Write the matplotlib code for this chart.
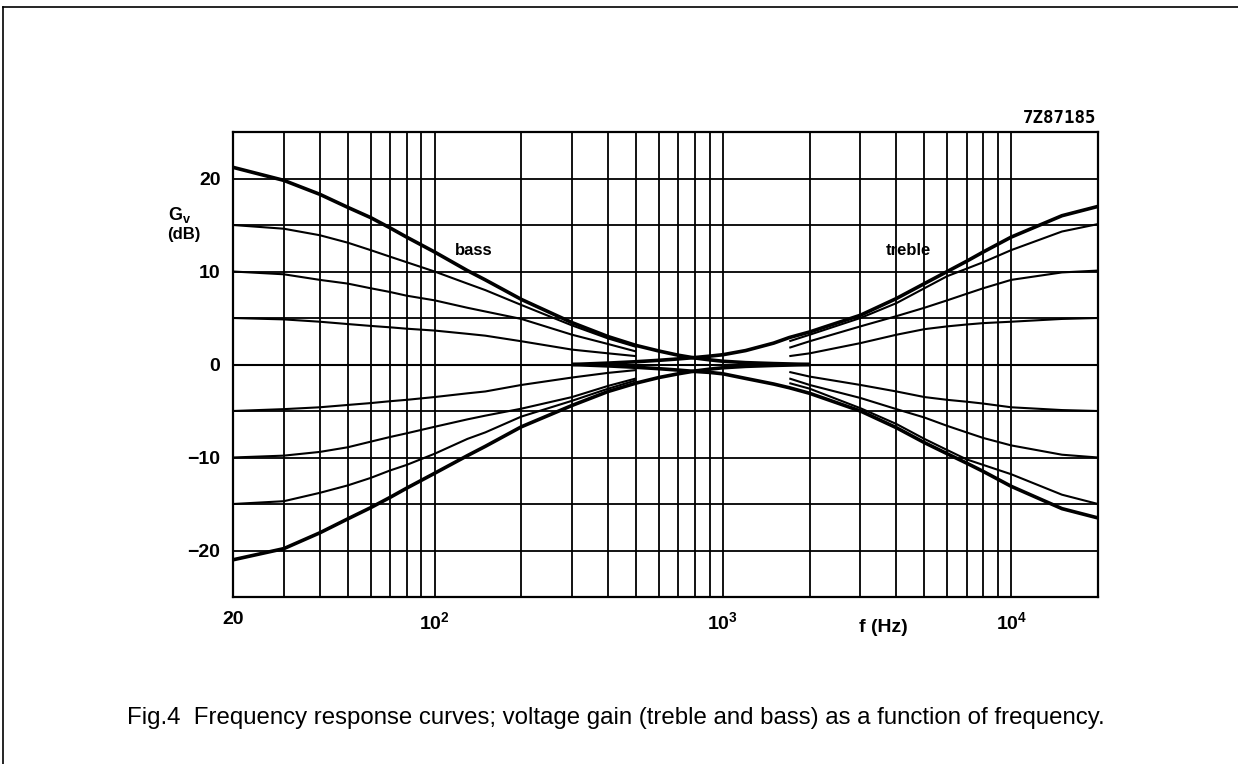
import matplotlib
matplotlib.use("Agg")
import matplotlib.pyplot as plt
from matplotlib.lines import Line2D

plt.rcParams['font.family'] = ['Liberation Sans', 'DejaVu Sans']
plt.rcParams['mathtext.fontset'] = 'custom'
plt.rcParams['mathtext.rm'] = 'Liberation Sans'
plt.rcParams['mathtext.bf'] = 'Liberation Sans:bold'

## datos leidos de la figura
# bass (curvas finas): 20 Hz .. 500 Hz
bass_freq = [20, 30, 40, 50, 60, 70, 80, 100, 130, 150, 200, 300, 400, 500]
bass_p15 = [15.0, 14.6, 13.9, 13.1, 12.3, 11.6, 11.0, 10.0, 8.7, 8.0, 6.4, 4.2, 2.8, 1.9]
bass_p10 = [10.0, 9.7, 9.1, 8.7, 8.2, 7.8, 7.4, 6.9, 6.1, 5.7, 4.9, 3.2, 2.2, 1.4]
bass_p5 = [5.0, 4.85, 4.6, 4.35, 4.15, 4.0, 3.85, 3.65, 3.3, 3.1, 2.5, 1.6, 1.2, 0.9]
bass_m5 = [-5.0, -4.8, -4.6, -4.35, -4.15, -3.95, -3.8, -3.5, -3.1, -2.9, -2.2, -1.4, -0.9, -0.6]
bass_m10 = [-10.0, -9.8, -9.4, -8.9, -8.3, -7.8, -7.4, -6.7, -5.9, -5.5, -4.75, -3.5, -2.3, -1.5]
bass_m15 = [-15.0, -14.7, -13.8, -13.0, -12.2, -11.4, -10.8, -9.6, -8.0, -7.3, -5.6, -3.9, -2.6, -1.7]

# treble (curvas finas): 1.7 kHz .. 20 kHz
treble_freq = [1700, 2000, 3000, 4000, 5000, 6000, 7000, 8000, 10000, 15000, 20000]
treble_p15 = [2.5, 3.2, 5.0, 6.6, 8.2, 9.5, 10.3, 11.0, 12.3, 14.3, 15.1]
treble_p10 = [1.8, 2.5, 4.1, 5.2, 6.1, 6.9, 7.6, 8.2, 9.1, 9.9, 10.1]
treble_p5 = [0.9, 1.2, 2.3, 3.2, 3.8, 4.1, 4.3, 4.45, 4.6, 4.9, 5.0]
treble_m5 = [-0.8, -1.3, -2.2, -2.9, -3.5, -3.8, -4.0, -4.2, -4.6, -4.9, -5.0]
treble_m10 = [-1.5, -2.2, -3.6, -4.8, -5.7, -6.6, -7.3, -7.9, -8.7, -9.7, -10.0]
treble_m15 = [-2.0, -2.6, -4.7, -6.4, -8.0, -9.2, -10.2, -10.8, -11.8, -14.0, -15.0]

# bass al maximo / minimo (curvas gruesas)
bass_max_freq = [20, 30, 40, 50, 60, 70, 80, 100, 130, 150, 200, 300, 400, 500,
                 600, 700, 800, 900, 1000, 1200, 1500, 2000]
bass_max = [21.2, 19.8, 18.3, 16.9, 15.8, 14.7, 13.7, 12.1, 10.1, 9.1, 7.0, 4.5, 3.0, 2.05,
            1.45, 1.0, 0.7, 0.5, 0.35, 0.2, 0.1, 0.0]
bass_min = [-21.0, -19.8, -18.1, -16.6, -15.4, -14.3, -13.3, -11.7, -9.8, -8.8, -6.7, -4.4, -2.9, -2.0,
            -1.4, -1.0, -0.7, -0.5, -0.35, -0.2, -0.1, 0.0]

# treble al maximo / minimo (curvas gruesas)
treble_max_freq = [300, 400, 500, 600, 700, 800, 900, 1000, 1200, 1500, 1700,
                   2000, 3000, 4000, 5000, 6000, 7000, 8000, 10000, 15000, 20000]
treble_max = [0.0, 0.15, 0.3, 0.45, 0.6, 0.75, 0.9, 1.05, 1.5, 2.3, 2.9,
              3.5, 5.3, 7.1, 8.7, 10.0, 11.1, 12.1, 13.7, 16.0, 17.0]
treble_min = [0.0, -0.15, -0.3, -0.45, -0.6, -0.75, -0.85, -1.0, -1.5, -2.1, -2.5,
              -3.1, -5.0, -6.8, -8.4, -9.6, -10.6, -11.5, -13.1, -15.5, -16.5]

flat_freq = [20, 20000]
flat_gain = [0, 0]

grid_freq = [30, 40, 50, 60, 70, 80, 90, 100, 200, 300, 400, 500, 600, 700, 800, 900,
             1000, 2000, 3000, 4000, 5000, 6000, 7000, 8000, 9000, 10000]
x_major = [20, 100, 1000, 10000]
x_labels = ['20', r'$\mathbf{10^2}$', r'$\mathbf{10^3}$', r'$\mathbf{10^4}$']
y_grid = [-25, -20, -15, -10, -5, 0, 5, 10, 15, 20, 25]
y_labels = ['', '\u221220', '', '\u221210', '', '0', '', '10', '', '20', '']

W, H = 1238, 764
fig = plt.figure(figsize=(W / 100, H / 100), dpi=100)
ax = fig.add_axes([233 / W, 167 / H, 865 / W, 465 / H])
ax.set_xscale('log')
ax.set_xlim(20, 20000)
ax.set_ylim(-25, 25)

# rejilla
ax.set_xticks(x_major)
ax.set_xticklabels(x_labels)
ax.set_xticks(grid_freq, minor=True)
ax.xaxis.set_minor_formatter(plt.NullFormatter())
ax.set_yticks(y_grid)
ax.set_yticklabels(y_labels)
ax.grid(True, which='both', color='black', lw=1.3)
ax.tick_params(which='both', length=0)
ax.tick_params(axis='y', pad=9, labelsize=14)
ax.tick_params(axis='x', pad=10, labelsize=14)
for lab in ax.get_yticklabels() + ax.get_xticklabels():
    lab.set_fontweight('bold')
for s in ax.spines.values():
    s.set_linewidth(1.6)

thin = dict(color='black', lw=1.5, solid_capstyle='butt')
thick = dict(color='black', lw=2.6, solid_capstyle='butt')

for g in [bass_p15, bass_p10, bass_p5, bass_m5, bass_m10, bass_m15]:
    ax.plot(bass_freq, g, **thin)
for g in [treble_p15, treble_p10, treble_p5, treble_m5, treble_m10, treble_m15]:
    ax.plot(treble_freq, g, **thin)
for g in [bass_max, bass_min]:
    ax.plot(bass_max_freq, g, **thick)
for g in [treble_max, treble_min]:
    ax.plot(treble_max_freq, g, **thick)
ax.plot(flat_freq, flat_gain, **thin)

ax.text(137, 12.3, 'bass', ha='center', va='center', fontsize=12, fontweight='bold')
ax.text(4400, 12.3, 'treble', ha='center', va='center', fontsize=12, fontweight='bold')


def px(x, y):
    return x / W, 1 - y / H


fig.text(*px(180, 215), r'G$_\mathregular{v}$', ha='center', va='center', fontsize=13, fontweight='bold')
fig.text(*px(184, 235), '(dB)', ha='center', va='center', fontsize=12, fontweight='bold')
fig.text(*px(883, 628), 'f (Hz)', ha='center', va='center', fontsize=14, fontweight='bold')
fig.text(*px(1096, 118), '7Z87185', ha='right', va='center', fontsize=12.5,
         fontweight='bold', family='DejaVu Sans Mono')
fig.text(*px(127, 718), 'Fig.4  Frequency response curves; voltage gain (treble and bass) '
         'as a function of frequency.', ha='left', va='center', fontsize=17.3)

# marco de la pagina
fig.add_artist(Line2D([3 / W, 1], [1 - 7 / H] * 2, transform=fig.transFigure, color='black', lw=1.2))
fig.add_artist(Line2D([3 / W] * 2, [0, 1 - 7 / H], transform=fig.transFigure, color='black', lw=1.2))

fig.savefig('out.png', dpi=100)
